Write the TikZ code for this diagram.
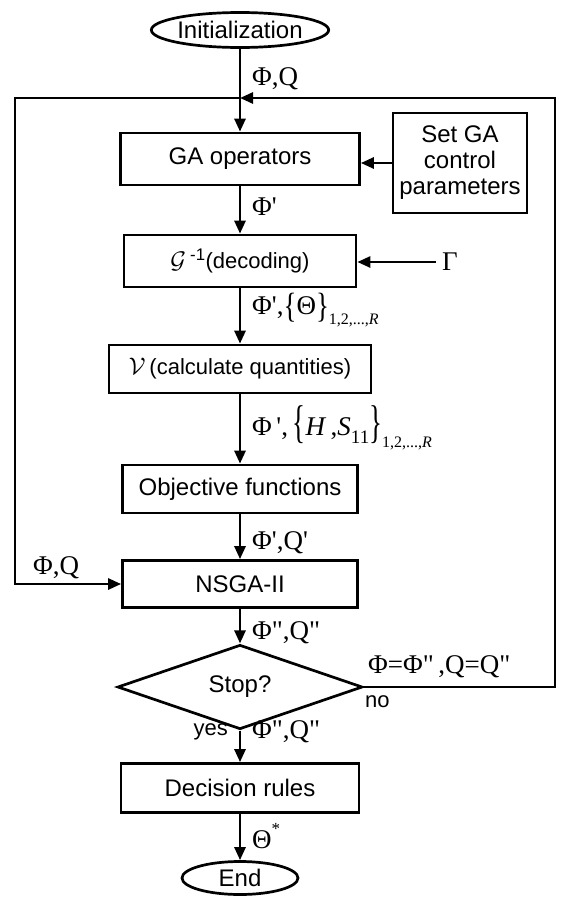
\RequirePackage{fix-cm}
\documentclass[tikz,border=0pt]{standalone}
\usepackage{fontspec}
\setmainfont{Liberation Sans}
\newfontfamily\lblfont{Liberation Serif}
\usetikzlibrary{arrows.meta, positioning, shapes.geometric}

\newcommand{\brc}[2]{\raisebox{-0.1em}{\scalebox{1}[#1]{#2}}}

\begin{document}
\begin{tikzpicture}[
    x=1pt, y=-1pt,
    font=\fontsize{24}{26}\selectfont,
    kotak/.style={draw, line width=2.7pt, inner sep=0pt, align=center},
    lonjong/.style={draw, ellipse, line width=2.7pt, inner sep=0pt},
    belah/.style={draw, diamond, line width=2.7pt, inner sep=0pt},
    panah/.style={-{Triangle[length=13pt, width=11pt]}, line width=2.7pt},
    simbol/.style={font=\lblfont\fontsize{27}{29}\selectfont, inner sep=0pt, anchor=west}
  ]
    \useasboundingbox (0,0) rectangle (565,897);

    \node[lonjong, minimum width=154pt, minimum height=35pt] (init) at (240,30) {Initialization};
    \node[kotak, minimum width=239pt, minimum height=52pt] (gaop) at (240,159) {GA operators};
    \node[kotak, minimum width=134pt, minimum height=100pt] (setga) at (460,163) {Set GA\\control\\parameters};
    \node[kotak, minimum width=232pt, minimum height=52pt] (decode) at (240,261) {$\mathcal{G}$\,\textsuperscript{-1}{\fontsize{22}{24}\selectfont(decoding)}};
    \node[kotak, minimum width=262pt, minimum height=48pt] (calc) at (240,369) {$\mathcal{V}$\,{\fontsize{22}{24}\selectfont(calculate quantities)}};
    \node[kotak, minimum width=235pt, minimum height=48pt] (objf) at (240,489) {Objective functions};
    \node[kotak, minimum width=235pt, minimum height=47pt] (nsga) at (240,584) {NSGA-II};
    \node[belah, minimum width=245pt, minimum height=50pt] (stop) at (240,687) {Stop?};
    \node[kotak, minimum width=238pt, minimum height=49pt] (decis) at (240,788) {Decision rules};
    \node[lonjong, minimum width=116pt, minimum height=33pt] (fin) at (240,878) {End};
    \node[simbol, inner xsep=6pt] (gam) at (436,262) {Γ};

    \coordinate (jtop) at (240,98);
    \coordinate (kiri) at (15,98);
    \coordinate (kanan) at (555,98);

    % alur utama
    \draw[panah] (init) -- (gaop);
    \draw[panah] (gaop) -- (decode);
    \draw[panah] (decode) -- (calc);
    \draw[panah] (calc) -- (objf);
    \draw[panah] (objf) -- (nsga);
    \draw[panah] (nsga) -- (stop);
    \draw[panah] (stop) -- (decis);
    \draw[panah] (decis) -- (fin);
    \draw[panah] (setga.west) -- (setga.west -| gaop.east);
    \draw[panah] (gam.west) -- (gam.west -| decode.east);

    % umpan balik
    \draw[panah] (jtop) -- (kiri) |- (nsga.west);
    \draw[panah] (stop.east) -| (kanan) -- (jtop);

    % label
    \node[simbol] (lq0) at (252,79) {Φ,Q};
    \node[simbol] (lq1) at (252,207) {Φ\textquotesingle};
    \node[simbol] (lq2) at (252,310) {Φ\textquotesingle,\brc{1.3}{\{}Θ\brc{1.3}{\}}\raisebox{-0.35em}{\fontsize{16}{16}\selectfont 1,2,...,\textit{R}}};
    \node[simbol] (lq3) at (252,428) {Φ\,\textquotesingle,\,\brc{1.7}{\{}\textit{H}\,,\textit{S}\raisebox{-0.3em}{\fontsize{19}{19}\selectfont 11}\brc{1.7}{\}}\raisebox{-0.45em}{\fontsize{16}{16}\selectfont 1,2,...,\textit{R}}};
    \node[simbol] (lq4) at (252,543) {Φ\textquotesingle,Q\textquotesingle};
    \node[simbol] (lq5) at (33,568) {Φ,Q};
    \node[simbol] (lq6) at (252,633) {Φ\textquotedbl,Q\textquotedbl};
    \node[simbol] (lq7) at (368,667) {Φ=Φ\textquotedbl\,,Q=Q\textquotedbl};
    \node[font=\fontsize{22}{24}\selectfont, inner sep=0pt, anchor=west] (tno) at (365,702) {no};
    \node[font=\fontsize{22}{24}\selectfont, inner sep=0pt, anchor=east] (tyes) at (228,732) {yes};
    \node[simbol] (lq8) at (252,732) {Φ\textquotedbl,Q\textquotedbl};
    \node[simbol] (lq9) at (252,836) {Θ\raisebox{0.55em}{\fontsize{17}{17}\selectfont *}};
  \end{tikzpicture}
\end{document}
